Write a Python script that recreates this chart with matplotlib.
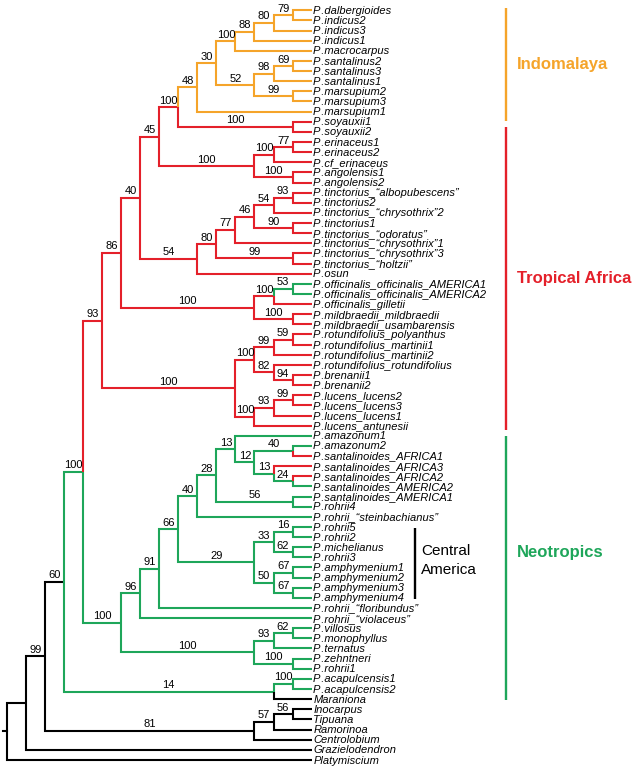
import matplotlib
matplotlib.use("Agg")
import matplotlib.pyplot as plt

# tree written as newick pieces, support value after each ")"
indomalaya = ("((((((P.dalbergioides,P.indicus2)79,P.indicus3)80,P.indicus1)88,P.macrocarpus)100,"
              "(((P.santalinus2,P.santalinus3)69,P.santalinus1)98,(P.marsupium2,P.marsupium3)99)52)30,"
              "P.marsupium1)48")
soy_erin = ("((" + indomalaya + ",(P.soyauxii1,P.soyauxii2)100)100,"
            "(((P.erinaceus1,P.erinaceus2)77,P.cf_erinaceus)100,(P.angolensis1,P.angolensis2)100)100)45")
tinct = ("((((((P.tinctorius_“albopubescens”,P.tinctorius2)93,P.tinctorius_“chrysothrix”2)54,"
         "(P.tinctorius1,P.tinctorius_“odoratus”)90)46,P.tinctorius_“chrysothrix”1)77,"
         "(P.tinctorius_“chrysothrix”3,P.tinctorius_“holtzii”)99)80,P.osun)54")
offmild = ("(((P.officinalis_officinalis_AMERICA1,P.officinalis_officinalis_AMERICA2)53,P.officinalis_gilletii)100,"
           "(P.mildbraedii_mildbraedii,P.mildbraedii_usambarensis)100)100")
rotluc = ("((((P.rotundifolius_polyanthus,P.rotundifolius_martinii1)59,P.rotundifolius_martinii2)99,"
          "(P.rotundifolius_rotundifolius,(P.brenanii1,P.brenanii2)94)82)100,"
          "(((P.lucens_lucens2,P.lucens_lucens3)99,P.lucens_lucens1)93,P.lucens_antunesii)100)100")
africa = "(((" + soy_erin + "," + tinct + ")40," + offmild + ")86," + rotluc + ")93"
neo_a = ("(((P.amazonum1,((P.amazonum2,P.santalinoides_AFRICA1)40,(P.santalinoides_AFRICA3,"
         "(P.santalinoides_AFRICA2,P.santalinoides_AMERICA2)24)13)12)13,"
         "(P.santalinoides_AMERICA1,P.rohrii4)56)28,P.rohrii_“steinbachianus”)40")
cent_am = ("(((P.rohrii5,P.rohrii2)16,(P.michelianus,P.rohrii3)62)33,"
           "((P.amphymenium1,P.amphymenium2)67,(P.amphymenium3,P.amphymenium4)67)50)29")
neo = ("((((" + neo_a + "," + cent_am + ")66,P.rohrii_“floribundus”)91,P.rohrii_“violaceus”)96,"
       "(((P.villosus,P.monophyllus)62,P.ternatus)93,(P.zehntneri,P.rohrii1)100)100)100")
tree = ("(((((" + africa + "," + neo + ")100,((P.acapulcensis1,P.acapulcensis2)100,Maraniona)14)60,"
        "(((Inocarpus,Tipuana)56,Ramorinoa)57,Centrolobium)81)99,Grazielodendron),Platymiscium)")

# region of the branch leading to a clade (first leaf, last leaf), inherited downwards
clade_first = ["P.dalbergioides", "P.acapulcensis1", "Maraniona", "P.dalbergioides", "P.dalbergioides",
               "P.officinalis_officinalis_AMERICA1", "P.santalinoides_AFRICA1", "P.santalinoides_AFRICA3",
               "P.santalinoides_AFRICA2"]
clade_last = ["P.rohrii1", "Maraniona", "Maraniona", "P.lucens_antunesii", "P.marsupium1",
              "P.officinalis_officinalis_AMERICA2", "P.santalinoides_AFRICA1", "P.santalinoides_AFRICA3",
              "P.santalinoides_AFRICA2"]
clade_region = ["Neotropics", "Neotropics", "outgroup", "Tropical Africa", "Indomalaya",
                "Neotropics", "Tropical Africa", "Tropical Africa", "Tropical Africa"]

regions = ["Indomalaya", "Tropical Africa", "Neotropics"]

colours = {"Indomalaya": "#F5A42A", "Tropical Africa": "#E4202A", "Neotropics": "#1EA65A", "outgroup": "black"}

# pixel layout
X0, DX = 6.7, 19.06
Y0, DY = 10.3, 10.13
LW = 1.5


def parse(s):
    pos = 0

    def read():
        nonlocal pos
        kids = []
        if s[pos] == "(":
            pos += 1
            kids.append(read())
            while s[pos] == ",":
                pos += 1
                kids.append(read())
            pos += 1
        start = pos
        while pos < len(s) and s[pos] not in ",()":
            pos += 1
        return {"kids": kids, "label": s[start:pos]}
    return read()


root = parse(tree)
leaves = []


def layout(n):
    if not n["kids"]:
        n["lo"] = n["hi"] = len(leaves)
        leaves.append(n)
        n["y"] = n["lo"]
        n["h"] = 0
        return
    for k in n["kids"]:
        layout(k)
    n["h"] = max(k["h"] for k in n["kids"]) + 1
    n["y"] = (n["kids"][0]["y"] + n["kids"][-1]["y"]) / 2
    n["lo"] = n["kids"][0]["lo"]
    n["hi"] = n["kids"][-1]["hi"]


layout(root)
index = {n["label"]: n["lo"] for n in leaves}
override = {(index[a], index[b]): r for a, b, r in zip(clade_first, clade_last, clade_region)}
depth = root["h"]


def px(n):
    return X0 + DX * (depth - n["h"]), Y0 + DY * n["y"]


fig = plt.figure(figsize=(6.37, 7.70), dpi=100)
ax = fig.add_axes([0, 0, 1, 1])
ax.set_xlim(0, 637)
ax.set_ylim(770, 0)
ax.axis("off")

plt.rcParams["font.family"] = ["Liberation Sans", "DejaVu Sans"]


def shown(name):
    # hair space stops the italic "P." kerning from hiding the dot under the P
    return name.replace("P.", "P\u200a.", 1) if name.startswith("P.") else name


def draw(n, reg):
    nx, ny = px(n)
    for k in n["kids"]:
        kreg = override.get((k["lo"], k["hi"]), reg)
        kx, ky = px(k)
        ax.plot([nx, nx, kx], [ny, ky, ky], color=colours[kreg], lw=LW,
                solid_joinstyle="miter", solid_capstyle="butt")
        if k["kids"]:
            if k["label"]:
                ax.text((nx + kx) / 2, ky - 3.5, k["label"], ha="center", va="baseline", fontsize=8)
            draw(k, kreg)
        else:
            ax.text(kx + 1.6, ky + 3.6, shown(k["label"]), ha="left", va="baseline", fontsize=8,
                    style="italic")


rx, ry = px(root)
ax.plot([rx - 3.5, rx], [ry, ry], color="black", lw=LW)
draw(root, "outgroup")

# region bars
bar_y = [(8, 121), (127, 430), (436, 700)]
label_y = [64, 278, 552]
for reg, (a, b), ly in zip(regions, bar_y, label_y):
    ax.plot([506, 506], [a, b], color=colours[reg], lw=1.7, solid_capstyle="butt")
    ax.text(517, ly, reg, color=colours[reg], fontsize=12, fontweight="bold", va="center", ha="left")

# Central America bracket
ax.plot([414.5, 414.5], [528, 599], color="black", lw=1.7, solid_capstyle="butt")
ax.text(421, 551, "Central", fontsize=11, va="center", ha="left")
ax.text(421, 570, "America", fontsize=11, va="center", ha="left")

fig.savefig("out.png", dpi=100, facecolor="white")
